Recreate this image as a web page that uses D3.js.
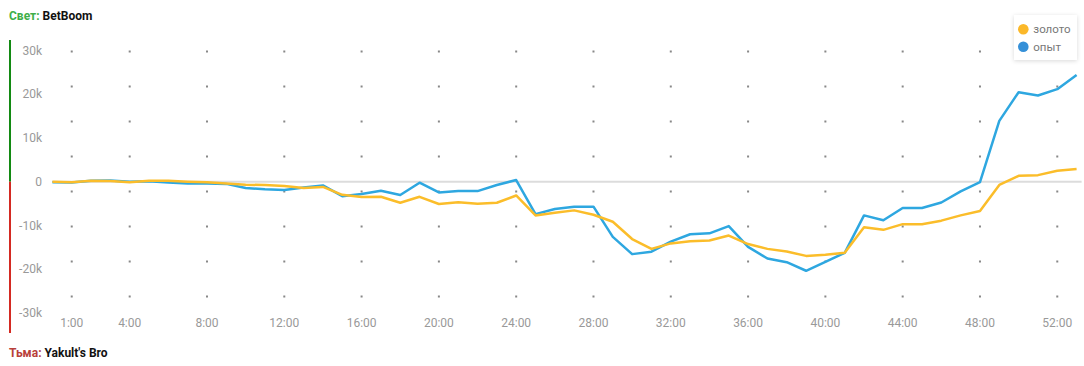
<!DOCTYPE html>
<html>
<head>
<meta charset="utf-8">
<script src="https://cdn.jsdelivr.net/npm/d3@7"></script>
<style>
  body { margin: 0; background: #fff; }
  svg { display: block; font-family: Roboto, "Noto Sans", sans-serif; }
</style>
</head>
<body>
<div id="chart"></div>
<script>
// minutes of the match, one point per minute
var minutes = d3.range(0, 54);

var gold = [0, -100, 200, 150, -100, 200, 200, 0, -150, -400,
  -700, -750, -1000, -1450, -1200, -3000, -3500, -3450, -4800, -3450,
  -5100, -4700, -5050, -4800, -3150, -7700, -7100, -6550, -7550, -9150,
  -13100, -15350, -14100, -13600, -13450, -12300, -14250, -15350, -15950, -16950,
  -16700, -16250, -10400, -11000, -9700, -9700, -8900, -7700, -6700, -750,
  1350, 1500, 2500, 2900];

var exp = [-100, -200, 200, 300, 0, 100, -200, -400, -400, -500,
  -1450, -1750, -1900, -1300, -850, -3300, -2800, -2050, -3050, -230,
  -2450, -2150, -2150, -750, 380, -7400, -6250, -5700, -5700, -12600,
  -16550, -16000, -13700, -12000, -11800, -10150, -14900, -17550, -18400, -20350,
  -18300, -16250, -7700, -8800, -6000, -6000, -4750, -2200, -100, 13900,
  20450, 19700, 21150, 24400];

var xTicks = [1, 4, 8, 12, 16, 20, 24, 28, 32, 36, 40, 44, 48, 52];
var yTicks = [30000, 20000, 10000, 0, -10000, -20000, -30000];

var series = [
  {name: "золото", values: gold, color: "#fbbd2a", dot: "#fbb829"},
  {name: "опыт", values: exp, color: "#2ea7e0", dot: "#3590d8"}
];

var W = 1084, H = 366;

var svg = d3.select("#chart")
  .append("svg")
    .attr("width", W)
    .attr("height", H);

var x = d3.scaleLinear()
  .domain([0, 53])
  .range([52.4, 1076.6]);

var y = d3.scaleLinear()
  .domain([-30000, 30000])
  .range([313, 50.4]);

// legend shadow
var defs = svg.append("defs");
var f = defs.append("filter").attr("id", "shadow")
  .attr("x", "-30%").attr("y", "-30%").attr("width", "160%").attr("height", "160%");
f.append("feDropShadow")
  .attr("dx", 0).attr("dy", 1).attr("stdDeviation", 2)
  .attr("flood-color", "#000").attr("flood-opacity", 0.15);

// side bar: green above zero, red below
svg.append("rect")
  .attr("x", 9).attr("width", 2)
  .attr("y", 40).attr("height", y(0) - 40)
  .attr("fill", "#138a13");
svg.append("rect")
  .attr("x", 9).attr("width", 2)
  .attr("y", y(0)).attr("height", 333 - y(0))
  .attr("fill", "#d42a22");

// dotted vertical grid
svg.append("g")
  .selectAll("line")
  .data(xTicks)
  .enter()
  .append("line")
    .attr("x1", function(d) { return x(d); })
    .attr("x2", function(d) { return x(d); })
    .attr("y1", y(30000))
    .attr("y2", y(-30000))
    .attr("stroke", "#888")
    .attr("stroke-width", 2)
    .attr("stroke-dasharray", "2 33");

// zero line
svg.append("line")
  .attr("x1", x(0)).attr("x2", x(53) + 5)
  .attr("y1", y(0)).attr("y2", y(0))
  .attr("stroke", "#dcdcdc")
  .attr("stroke-width", 2);

// y labels
svg.append("g")
  .selectAll("text")
  .data(yTicks)
  .enter()
  .append("text")
    .attr("x", 42)
    .attr("y", function(d) { return y(d); })
    .attr("dy", "0.35em")
    .attr("text-anchor", "end")
    .attr("font-size", 12)
    .attr("fill", "#999")
    .text(function(d) { return d === 0 ? "0" : (d / 1000) + "k"; });

// x labels
svg.append("g")
  .selectAll("text")
  .data(xTicks)
  .enter()
  .append("text")
    .attr("x", function(d) { return x(d); })
    .attr("y", 323)
    .attr("dy", "0.35em")
    .attr("text-anchor", "middle")
    .attr("font-size", 12)
    .attr("fill", "#999")
    .text(function(d) { return d + ":00"; });

// lines
var line = d3.line()
  .x(function(d, i) { return x(minutes[i]); })
  .y(function(d) { return y(d); });

svg.selectAll("path.series")
  .data(series)
  .enter()
  .append("path")
    .attr("class", "series")
    .attr("fill", "none")
    .attr("stroke", function(d) { return d.color; })
    .attr("stroke-width", 2.5)
    .attr("stroke-linejoin", "round")
    .attr("d", function(d) { return line(d.values); });

// put the gold line on top
svg.selectAll("path.series").filter(function(d) { return d.name === "золото"; }).raise();

// legend
var lg = svg.append("g");
lg.append("rect")
  .attr("x", 1014).attr("y", 15)
  .attr("width", 63).attr("height", 45)
  .attr("fill", "#fff")
  .attr("filter", "url(#shadow)");
var items = lg.selectAll("g.item")
  .data(series)
  .enter()
  .append("g")
    .attr("transform", function(d, i) { return "translate(1023.3," + (29.3 + i * 17.4) + ")"; });
items.append("circle")
  .attr("r", 5.3)
  .attr("fill", function(d) { return d.dot; });
items.append("text")
  .attr("x", 10)
  .attr("dy", "0.35em")
  .attr("font-size", 11.5)
  .attr("fill", "#777")
  .text(function(d) { return d.name; });

// team labels
var t1 = svg.append("text")
  .attr("x", 9).attr("y", 20)
  .attr("font-size", 12).attr("font-weight", "bold");
t1.append("tspan").attr("fill", "#3fae49").text("Свет: ");
t1.append("tspan").attr("fill", "#111").text("BetBoom");

var t2 = svg.append("text")
  .attr("x", 9).attr("y", 357)
  .attr("font-size", 12).attr("font-weight", "bold");
t2.append("tspan").attr("fill", "#b8403a").text("Тьма: ");
t2.append("tspan").attr("fill", "#111").text("Yakult's Bro");
</script>
</body>
</html>
